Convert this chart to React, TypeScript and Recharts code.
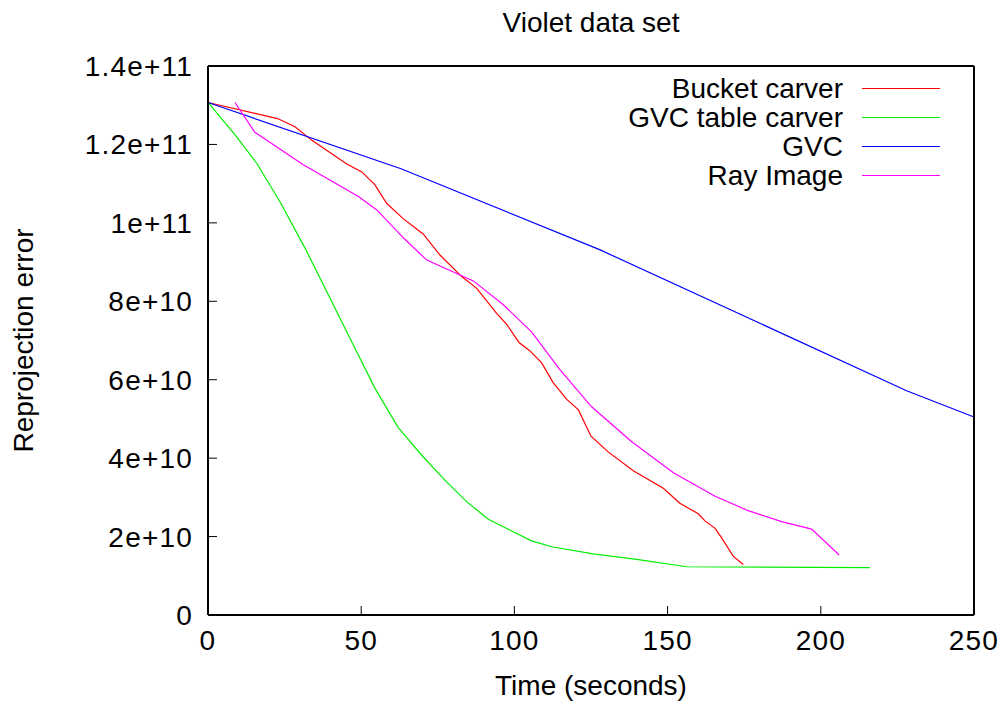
import { Legend, Line, LineChart, XAxis, YAxis } from 'recharts';

// Reprojection error over time for each carving method (Violet data set)
const bucketTime = [0, 22.7, 28.4, 33.8, 45.3, 50.2, 54.5, 58.3, 63.5, 70.3, 75.7, 82.8, 87.7, 94.2, 97.5, 101.5, 105, 108.9, 112.7, 117.1, 120.9, 125, 130.6, 138.8, 148.6, 154, 160, 162.2, 165.5, 167.7, 171.4, 174.7];
const bucketError = [13.07e10, 12.66e10, 12.45e10, 12.11e10, 11.5e10, 11.3e10, 10.97e10, 10.5e10, 10.12e10, 9.71e10, 9.18e10, 8.63e10, 8.33e10, 7.69e10, 7.41e10, 6.95e10, 6.74e10, 6.43e10, 5.92e10, 5.5e10, 5.23e10, 4.56e10, 4.16e10, 3.68e10, 3.23e10, 2.85e10, 2.58e10, 2.4e10, 2.21e10, 1.96e10, 1.5e10, 1.29e10];

const tableTime = [0, 9.1, 15.9, 23.5, 31.7, 39.3, 46.9, 54.5, 62.1, 69.7, 77.3, 84.4, 91.5, 105.6, 112.2, 125.7, 139.9, 156.2, 216];
const tableError = [13.07e10, 12.22e10, 11.52e10, 10.54e10, 9.35e10, 8.16e10, 6.97e10, 5.78e10, 4.78e10, 4.08e10, 3.44e10, 2.89e10, 2.44e10, 1.89e10, 1.74e10, 1.56e10, 1.42e10, 1.23e10, 1.21e10];

const gvcTime = [0, 63, 128, 228, 250];
const gvcError = [13.07e10, 11.38e10, 9.31e10, 5.72e10, 5.05e10];

const rayTime = [8.8, 15.3, 31.1, 49.1, 55.1, 64, 71.4, 86.6, 96.4, 105.6, 114.9, 125.2, 138.3, 151.9, 165.5, 176.3, 187.2, 197, 206];
const rayError = [13.07e10, 12.31e10, 11.48e10, 10.67e10, 10.33e10, 9.6e10, 9.05e10, 8.52e10, 7.91e10, 7.22e10, 6.25e10, 5.31e10, 4.42e10, 3.63e10, 3.03e10, 2.66e10, 2.38e10, 2.19e10, 1.53e10];

const TIME_TICKS = [0, 50, 100, 150, 200, 250];
const ERROR_TICKS = [0, 2e10, 4e10, 6e10, 8e10, 10e10, 12e10, 14e10];
const ERROR_TICK_LABELS = ['0', '2e+10', '4e+10', '6e+10', '8e+10', '1e+11', '1.2e+11', '1.4e+11'];

const FONT = '"Liberation Sans", Arial, sans-serif';
const FONT_SIZE = 28;
const TICK_LEN = 9;

const toPoints = (times: number[], errors: number[]) =>
  times.map((t, i) => ({ time: t, error: errors[i] }));

const SERIES = [
  { name: 'Bucket carver', color: '#ff0000', data: toPoints(bucketTime, bucketError) },
  { name: 'GVC table carver', color: '#00ee00', data: toPoints(tableTime, tableError) },
  { name: 'GVC', color: '#0000ff', data: toPoints(gvcTime, gvcError) },
  { name: 'Ray Image', color: '#ff00ff', data: toPoints(rayTime, rayError) },
];

// gnuplot-style ticks: drawn inward from the border
const BottomTick = ({ x, y, payload }: any) => (
  <g>
    <line x1={x} x2={x} y1={y} y2={y - TICK_LEN} stroke="#000" strokeWidth={1} />
    <text x={x} y={y + 35} textAnchor="middle" fontFamily={FONT} fontSize={FONT_SIZE} letterSpacing={1.2} fill="#000">
      {payload.value}
    </text>
  </g>
);

const TopTick = ({ x, y }: any) => (
  <line x1={x} x2={x} y1={y} y2={y + TICK_LEN} stroke="#000" strokeWidth={1} />
);

const LeftTick = ({ x, y, index }: any) => (
  <g>
    <line x1={x} x2={x + TICK_LEN} y1={y} y2={y} stroke="#000" strokeWidth={1} />
    <text x={x - 15} y={y} dy={10} textAnchor="end" fontFamily={FONT} fontSize={FONT_SIZE} letterSpacing={1.2} fill="#000">
      {ERROR_TICK_LABELS[index]}
    </text>
  </g>
);

const RightTick = ({ x, y }: any) => (
  <line x1={x} x2={x - TICK_LEN} y1={y} y2={y} stroke="#000" strokeWidth={1} />
);

const YLabel = ({ viewBox }: any) => {
  const x = viewBox.x + 15;
  const y = viewBox.y + viewBox.height / 2;
  return (
    <text
      x={x}
      y={y}
      transform={`rotate(-90 ${x} ${y})`}
      textAnchor="middle"
      fontFamily={FONT}
      fontSize={FONT_SIZE}
      fill="#000"
    >
      Reprojection error
    </text>
  );
};

const KeyBox = () => (
  <div style={{ fontFamily: FONT, fontSize: FONT_SIZE, color: '#000' }}>
    {SERIES.map((s) => (
      <div
        key={s.name}
        style={{ display: 'flex', justifyContent: 'flex-end', alignItems: 'center', height: 29, lineHeight: '29px' }}
      >
        <span style={{ whiteSpace: 'nowrap' }}>{s.name}</span>
        <svg width={78} height={9} style={{ marginLeft: 19, display: 'block' }}>
          <line x1={0} x2={78} y1={4.5} y2={4.5} stroke={s.color} strokeWidth={1.2} />
        </svg>
      </div>
    ))}
  </div>
);

const axisLine = { stroke: '#000', strokeWidth: 2 };

export default function App() {
  return (
    <LineChart width={1000} height={701} margin={{ top: 38, right: 33, bottom: 0, left: 10 }}>
      <XAxis
        xAxisId="bottom"
        dataKey="time"
        type="number"
        domain={[0, 250]}
        ticks={TIME_TICKS}
        interval={0}
        allowDuplicatedCategory={false}
        height={94}
        tickSize={0}
        tickMargin={0}
        tickLine={false}
        axisLine={axisLine}
        tick={<BottomTick />}
        label={{ value: 'Time (seconds)', position: 'insideBottom', offset: 14, fontFamily: FONT, fontSize: FONT_SIZE, fill: '#000' }}
      />
      <XAxis
        xAxisId="top"
        orientation="top"
        dataKey="time"
        type="number"
        domain={[0, 250]}
        ticks={TIME_TICKS}
        interval={0}
        allowDuplicatedCategory={false}
        height={20}
        tickSize={0}
        tickMargin={0}
        tickLine={false}
        axisLine={axisLine}
        tick={<TopTick />}
        label={{ value: 'Violet data set', position: 'top', offset: 14, fontFamily: FONT, fontSize: FONT_SIZE, fill: '#000' }}
      />
      <YAxis
        yAxisId="left"
        type="number"
        domain={[0, 14e10]}
        ticks={ERROR_TICKS}
        interval={0}
        width={190}
        tickSize={0}
        tickMargin={0}
        tickLine={false}
        axisLine={axisLine}
        tick={<LeftTick />}
        label={{ content: <YLabel /> }}
      />
      <YAxis
        yAxisId="right"
        orientation="right"
        type="number"
        domain={[0, 14e10]}
        ticks={ERROR_TICKS}
        interval={0}
        width={1}
        tickSize={0}
        tickMargin={0}
        tickLine={false}
        axisLine={axisLine}
        tick={<RightTick />}
      />
      <Legend
        layout="horizontal"
        align="center"
        verticalAlign="middle"
        wrapperStyle={{ left: 600, top: 66, width: 332 }}
        content={<KeyBox />}
      />
      {SERIES.map((s) => (
        <Line
          key={s.name}
          xAxisId="bottom"
          yAxisId="left"
          data={s.data}
          dataKey="error"
          name={s.name}
          type="linear"
          stroke={s.color}
          strokeWidth={1.2}
          dot={false}
          activeDot={false}
          isAnimationActive={false}
        />
      ))}
    </LineChart>
  );
}
